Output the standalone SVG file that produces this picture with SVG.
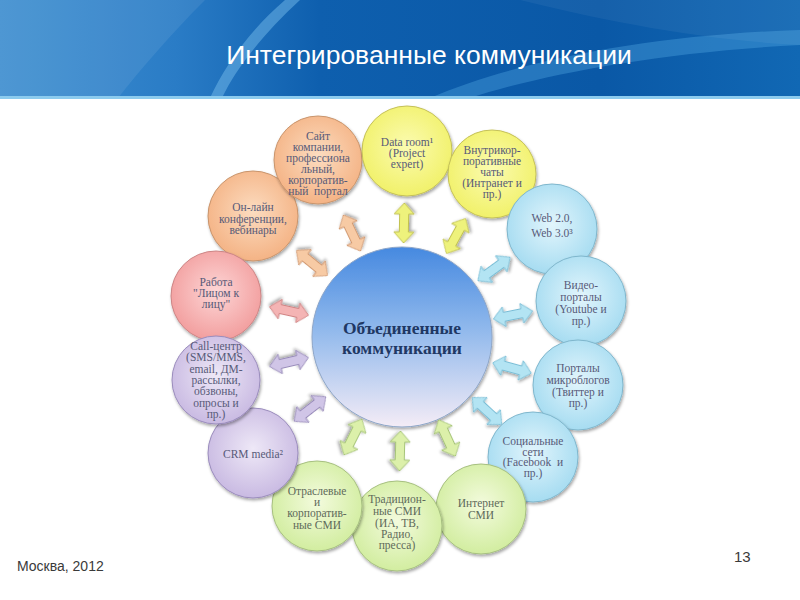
<svg xmlns="http://www.w3.org/2000/svg" width="800" height="600" viewBox="0 0 800 600">
<defs>
<linearGradient id="hdr" x1="0" y1="0" x2="1" y2="0">
<stop offset="0" stop-color="#3f8fd0"/><stop offset="0.22" stop-color="#2a7cc6"/><stop offset="0.4" stop-color="#0e5fae"/><stop offset="0.75" stop-color="#0a58a6"/><stop offset="1" stop-color="#1168b4"/>
</linearGradient>
<linearGradient id="ctr" x1="0" y1="0" x2="0" y2="1">
<stop offset="0" stop-color="#4689e0"/><stop offset="0.45" stop-color="#8fb8ec"/><stop offset="1" stop-color="#f4ecf6"/>
</linearGradient>
<radialGradient id="gPeach" cx="50%" cy="45%" r="55%"><stop offset="0" stop-color="#fcdcc0"/><stop offset="1" stop-color="#f4b385"/></radialGradient>
<radialGradient id="gYel" cx="50%" cy="45%" r="55%"><stop offset="0" stop-color="#fbfbb0"/><stop offset="1" stop-color="#f1f16a"/></radialGradient>
<radialGradient id="gBlue" cx="50%" cy="45%" r="55%"><stop offset="0" stop-color="#e2f5fc"/><stop offset="1" stop-color="#a6dcf1"/></radialGradient>
<radialGradient id="gGreen" cx="50%" cy="45%" r="55%"><stop offset="0" stop-color="#f3fbdd"/><stop offset="1" stop-color="#d2eda0"/></radialGradient>
<radialGradient id="gLav" cx="50%" cy="45%" r="55%"><stop offset="0" stop-color="#eee8f7"/><stop offset="1" stop-color="#c9bae2"/></radialGradient>
<radialGradient id="gPink" cx="50%" cy="45%" r="55%"><stop offset="0" stop-color="#fdd6d6"/><stop offset="1" stop-color="#f29e9e"/></radialGradient>
<filter id="sh" x="-20%" y="-20%" width="140%" height="140%"><feDropShadow dx="1" dy="2" stdDeviation="1.5" flood-color="#000" flood-opacity="0.35"/></filter>
<path id="arr" d="M-20,0 L-9,-10 L-9,-4.5 L9,-4.5 L9,-10 L20,0 L9,10 L9,4.5 L-9,4.5 L-9,10 Z"/>
</defs>
<style>
.title{font-family:"Liberation Sans",Arial,sans-serif;font-size:26.5px;fill:#ffffff}
.foot{font-family:"Liberation Sans",Arial,sans-serif;font-size:14px;fill:#3a3a3a}
.pg{font-family:"Liberation Sans",Arial,sans-serif;font-size:15px;fill:#3a3a3a}
.t{font-family:"Liberation Serif","Times New Roman",serif;font-size:11.5px;fill:#575a78;text-anchor:middle}
.s{font-size:10.5px}
.tg{fill:#5e6a5a}
.ct{font-family:"Liberation Serif","Times New Roman",serif;font-size:17.5px;font-weight:bold;fill:#1f3864;text-anchor:middle}
.c{filter:url(#sh);stroke-width:1}
.peach{fill:url(#gPeach);stroke:#c8946c}
.yel{fill:url(#gYel);stroke:#c4c058}
.blue{fill:url(#gBlue);stroke:#7fb6cc}
.green{fill:url(#gGreen);stroke:#a6bf80}
.lav{fill:url(#gLav);stroke:#9a8cbc}
.pink{fill:url(#gPink);stroke:#cc8585}
.a{stroke-width:1;filter:url(#sh)}
.aPeach{fill:#f7caa4;stroke:#d19870}
.aYel{fill:#eef27c;stroke:#c2c250}
.aBlue{fill:#b3e4f3;stroke:#78bdd6}
.aGreen{fill:#dcf0aa;stroke:#a6c478}
.aLav{fill:#d0c5e7;stroke:#978ab9}
.aPink{fill:#f4b4b4;stroke:#d08282}
</style>
<rect width="800" height="600" fill="#ffffff"/>
<g id="header">
<rect x="0" y="0" width="800" height="98" fill="url(#hdr)"/>
<path d="M0,0 L205,0 C170,35 140,70 118,98 L0,98 Z" fill="#ffffff" opacity="0.08"/>
<path d="M285,0 L300,0 C262,35 235,70 222,98 L210,98 C225,65 250,30 285,0 Z" fill="#7ec4f0" opacity="0.45"/>
<path d="M430,98 C520,60 650,35 800,30 L800,45 C660,52 540,75 470,98 Z" fill="#5aaee8" opacity="0.35"/>
<path d="M520,0 C600,20 700,40 800,45 L800,0 Z" fill="#ffffff" opacity="0.05"/>
<rect x="0" y="96" width="800" height="3" fill="#8ccbee"/>
<text class="title" x="429" y="64" text-anchor="middle">Интегрированные коммуникации</text>
</g>
<g id="center">
<circle cx="402" cy="337" r="90" fill="url(#ctr)" stroke="#8ea6c8" stroke-width="1" filter="url(#sh)"/>
<text class="ct" x="402" y="334">Объединенные<tspan x="402" dy="20">коммуникации</tspan></text>
</g>
<g id="connectors">
<use href="#arr" class="a aPeach" transform="translate(352,233) rotate(-115.4)"/>
<use href="#arr" class="a aYel" transform="translate(404,223) rotate(-88.8)"/>
<use href="#arr" class="a aYel" transform="translate(456,236) rotate(-61.2)"/>
<use href="#arr" class="a aBlue" transform="translate(494,269) rotate(-36)"/>
<use href="#arr" class="a aBlue" transform="translate(513,315) rotate(-11.4)"/>
<use href="#arr" class="a aBlue" transform="translate(512,368) rotate(15.3)"/>
<use href="#arr" class="a aBlue" transform="translate(487,411) rotate(42.5)"/>
<use href="#arr" class="a aGreen" transform="translate(447,438) rotate(65.3)"/>
<use href="#arr" class="a aGreen" transform="translate(400,451) rotate(91.5)"/>
<use href="#arr" class="a aGreen" transform="translate(353,437) rotate(116.7)"/>
<use href="#arr" class="a aLav" transform="translate(310,409) rotate(142.1)"/>
<use href="#arr" class="a aLav" transform="translate(289,362) rotate(167)"/>
<use href="#arr" class="a aPink" transform="translate(289,311) rotate(-167.6)"/>
<use href="#arr" class="a aPeach" transform="translate(312,263) rotate(-140.9)"/>
</g>
<g id="n-online">
<circle class="c peach" cx="253" cy="216" r="45"/>
<text class="t" x="253" y="211">Он-лайн<tspan x="253" dy="11.5">конференции,</tspan><tspan x="253" dy="11.5">вебинары</tspan></text>
</g>
<g id="n-site">
<circle class="c peach" cx="318" cy="160" r="44"/>
<text class="t" x="318" y="140">Сайт<tspan x="318" dy="11">компании,</tspan><tspan x="318" dy="11">профессиона</tspan><tspan x="318" dy="11">льный,</tspan><tspan x="318" dy="11">корпоратив-</tspan><tspan x="318" dy="11" xml:space="preserve">ный  портал</tspan></text>
</g>
<g id="n-dataroom">
<circle class="c yel" cx="407" cy="151" r="45"/>
<text class="t" x="407" y="146">Data room¹<tspan x="407" dy="11">(Project</tspan><tspan x="407" dy="11">expert)</tspan></text>
</g>
<g id="n-chats">
<circle class="c yel" cx="492" cy="174" r="44"/>
<text class="t" x="492" y="154">Внутрикор-<tspan x="492" dy="11">поративные</tspan><tspan x="492" dy="11">чаты</tspan><tspan x="492" dy="11">(Интранет и</tspan><tspan x="492" dy="11">пр.)</tspan></text>
</g>
<g id="n-web">
<circle class="c blue" cx="552" cy="229" r="45"/>
<text class="t" x="552" y="222">Web 2.0,<tspan x="552" dy="15">Web 3.0³</tspan></text>
</g>
<g id="n-video">
<circle class="c blue" cx="581" cy="301" r="45"/>
<text class="t" x="581" y="289">Видео-<tspan x="581" dy="12">порталы</tspan><tspan x="581" dy="12">(Youtube и</tspan><tspan x="581" dy="11.5">пр.)</tspan></text>
</g>
<g id="n-micro">
<circle class="c blue" cx="578" cy="385" r="45"/>
<text class="t" x="578" y="372">Порталы<tspan x="578" dy="11.5">микроблогов</tspan><tspan x="578" dy="12">(Твиттер и</tspan><tspan x="578" dy="11">пр.)</tspan></text>
</g>
<g id="n-social">
<circle class="c blue" cx="533" cy="457" r="45"/>
<text class="t" x="533" y="445">Социальные<tspan x="533" dy="10.5">сети</tspan><tspan x="533" dy="10.5" xml:space="preserve">(Facebook  и</tspan><tspan x="533" dy="10.5">пр.)</tspan></text>
</g>
<g id="n-internet">
<circle class="c green" cx="481" cy="509" r="45"/>
<text class="t tg" x="481" y="507">Интернет<tspan x="481" dy="12">СМИ</tspan></text>
</g>
<g id="n-trad">
<circle class="c green" cx="397" cy="526" r="45"/>
<text class="t tg" x="397" y="503">Традицион-<tspan x="397" dy="12">ные СМИ</tspan><tspan x="397" dy="12">(ИА, ТВ,</tspan><tspan x="397" dy="11">Радио,</tspan><tspan x="397" dy="11">пресса)</tspan></text>
</g>
<g id="n-branch">
<circle class="c green" cx="317" cy="506" r="45"/>
<text class="t tg" x="317" y="495">Отраслевые<tspan x="317" dy="11">и</tspan><tspan x="317" dy="11">корпоратив-</tspan><tspan x="317" dy="12">ные СМИ</tspan></text>
</g>
<g id="n-crm">
<circle class="c lav" cx="253" cy="453" r="45"/>
<text class="t" x="253" y="458">CRM media²</text>
</g>
<g id="n-face">
<circle class="c pink" cx="216" cy="296" r="45"/>
<text class="t" x="216" y="286">Работа<tspan x="216" dy="11">"Лицом к</tspan><tspan x="216" dy="11">лицу"</tspan></text>
</g>
<g id="n-call">
<circle class="c lav" cx="216" cy="380" r="44"/>
<text class="t" x="216" y="350">Call-центр<tspan x="216" dy="11.3">(SMS/MMS,</tspan><tspan x="216" dy="11.3">email, ДМ-</tspan><tspan x="216" dy="11.3">рассылки,</tspan><tspan x="216" dy="11.3">обзвоны,</tspan><tspan x="216" dy="11.3">опросы и</tspan><tspan x="216" dy="11.3">пр.)</tspan></text>
</g>
<g id="footer">
<text class="foot" x="17" y="571">Москва, 2012</text>
<text class="pg" x="734" y="562">13</text>
</g>
</svg>
